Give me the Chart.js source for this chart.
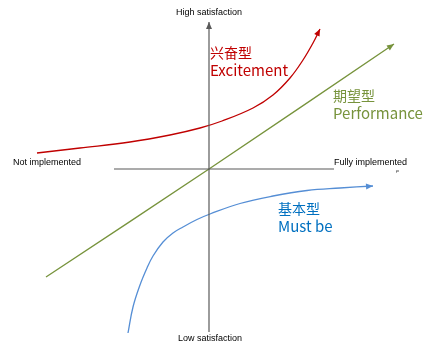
<!DOCTYPE html>
<html><head><meta charset="utf-8">
<script src="https://cdn.jsdelivr.net/npm/chart.js@4"></script>
<style>html,body{margin:0;padding:0;background:#fff}#c{display:block}</style>
</head><body>
<canvas id="c" width="431" height="347"></canvas>
<script>
// Kano model curves (x: implementation, y: satisfaction)
const excitementX = [-17.2,-12.9,-7.9,-3.9,-0.9,1.3,4.4,6.4,8.1,9.4,10.4,11.1];
const excitementY = [1.6,2.1,2.7,3.4,4.1,4.8,6.1,7.4,9.1,10.9,12.6,14.0];
const performanceX = [-16.3,0,18.5];
const performanceY = [-10.8,0,12.5];
const mustBeX = [-8.1,-7.6,-6.9,-6.2,-5.6,-4.6,-3.6,-2.6,-1.2,0.1,3.1,6.4,9.8,13.1,16.4];
const mustBeY = [-16.4,-13.8,-11.6,-9.9,-8.7,-7.3,-6.4,-5.8,-5.05,-4.5,-3.45,-2.7,-2.15,-1.9,-1.7];
const vAxisX = [0,0], vAxisY = [-16.3,14.7];
const hAxisX = [-9.5,12.5], hAxisY = [0,0];
const axisTexts = ["High satisfaction","Low satisfaction","Not implemented","Fully implemented"];
const seriesNames = [["兴奋型","Excitement"],["期望型","Performance"],["基本型","Must be"]];

const pts = (xs, ys) => xs.map((x,i)=>({x, y: ys[i]}));
const RED='#C00000', GREEN='#77933C', BLUE='#558ED5', AXIS='#595959';

function lineDs(data, color, arrow, width){
  return {data, borderColor: color, backgroundColor: color, showLine: true,
    pointRadius: 0, borderWidth: width||1.3, tension: 0.4, arrow};
}

const arrowPlugin = {
  id: 'arrows',
  afterDatasetsDraw(chart){
    const ctx = chart.ctx;
    chart.data.datasets.forEach((ds, i) => {
      if (!ds.arrow) return;
      const meta = chart.getDatasetMeta(i);
      const n = meta.data.length;
      const p1 = meta.data[n-1], p0 = meta.data[n-2];
      const a = Math.atan2(p1.y - p0.y, p1.x - p0.x);
      const L = 7, W = 3;
      ctx.save();
      ctx.fillStyle = ds.borderColor;
      ctx.beginPath();
      ctx.moveTo(p1.x, p1.y);
      ctx.lineTo(p1.x - L*Math.cos(a) + W*Math.sin(a), p1.y - L*Math.sin(a) - W*Math.cos(a));
      ctx.lineTo(p1.x - L*Math.cos(a) - W*Math.sin(a), p1.y - L*Math.sin(a) + W*Math.cos(a));
      ctx.closePath();
      ctx.fill();
      ctx.restore();
    });
  }
};

const textItems = [
  {t: axisTexts[0], x: 0, y: 15.6, align: 'center', color: '#000', font: '9px "Liberation Sans", Arial'},
  {t: axisTexts[1], x: 0.1, y: -17.0, align: 'center', color: '#000', font: '9px "Liberation Sans", Arial'},
  {t: axisTexts[2], x: -19.6, y: 0.6, align: 'left', color: '#000', font: '9px "Liberation Sans", Arial'},
  {t: axisTexts[3], x: 12.5, y: 0.6, align: 'left', color: '#000', font: '9px "Liberation Sans", Arial'},
  {t: seriesNames[0][0], x: 0.1, y: 11.6, align: 'left', color: RED, font: '14px "Noto Sans CJK SC"'},
  {t: seriesNames[0][1], x: 0.1, y: 9.9, align: 'left', color: RED, font: '15px "Noto Sans CJK SC"'},
  {t: seriesNames[1][0], x: 12.4, y: 7.3, align: 'left', color: GREEN, font: '14px "Noto Sans CJK SC"'},
  {t: seriesNames[1][1], x: 12.4, y: 5.6, align: 'left', color: GREEN, font: '15px "Noto Sans CJK SC"'},
  {t: seriesNames[2][0], x: 6.9, y: -4.0, align: 'left', color: '#0070C0', font: '14px "Noto Sans CJK SC"'},
  {t: seriesNames[2][1], x: 6.9, y: -5.7, align: 'left', color: '#0070C0', font: '15px "Noto Sans CJK SC"'}
];

const textPlugin = {
  id: 'texts',
  afterDraw(chart){
    const ctx = chart.ctx, sx = chart.scales.x, sy = chart.scales.y;
    ctx.save();
    ctx.textBaseline = 'middle';
    textItems.forEach(it => {
      ctx.font = it.font; ctx.fillStyle = it.color; ctx.textAlign = it.align;
      ctx.fillText(it.t, sx.getPixelForValue(it.x), sy.getPixelForValue(it.y));
    });
    // small stray mark near the horizontal axis end
    ctx.fillStyle = AXIS;
    ctx.fillRect(sx.getPixelForValue(18.7), sy.getPixelForValue(-0.15), 3, 1);
    ctx.fillRect(sx.getPixelForValue(18.7), sy.getPixelForValue(-0.25), 1, 1);
    ctx.restore();
  }
};

new Chart(document.getElementById('c'), {
  type: 'scatter',
  data: { datasets: [
    lineDs(pts(vAxisX, vAxisY), AXIS, true, 1.2),
    lineDs(pts(hAxisX, hAxisY), AXIS, false, 1.2),
    lineDs(pts(performanceX, performanceY), GREEN, true),
    lineDs(pts(excitementX, excitementY), RED, true),
    lineDs(pts(mustBeX, mustBeY), BLUE, true)
  ]},
  options: {
    responsive: false, animation: false,
    layout: {padding: 0},
    plugins: {legend: {display: false}, tooltip: {enabled: false}},
    scales: {
      x: {type: 'linear', min: -20.9, max: 22.2, display: false},
      y: {type: 'linear', min: -17.8, max: 16.9, display: false}
    }
  },
  plugins: [arrowPlugin, textPlugin]
});
</script>
</body></html>
